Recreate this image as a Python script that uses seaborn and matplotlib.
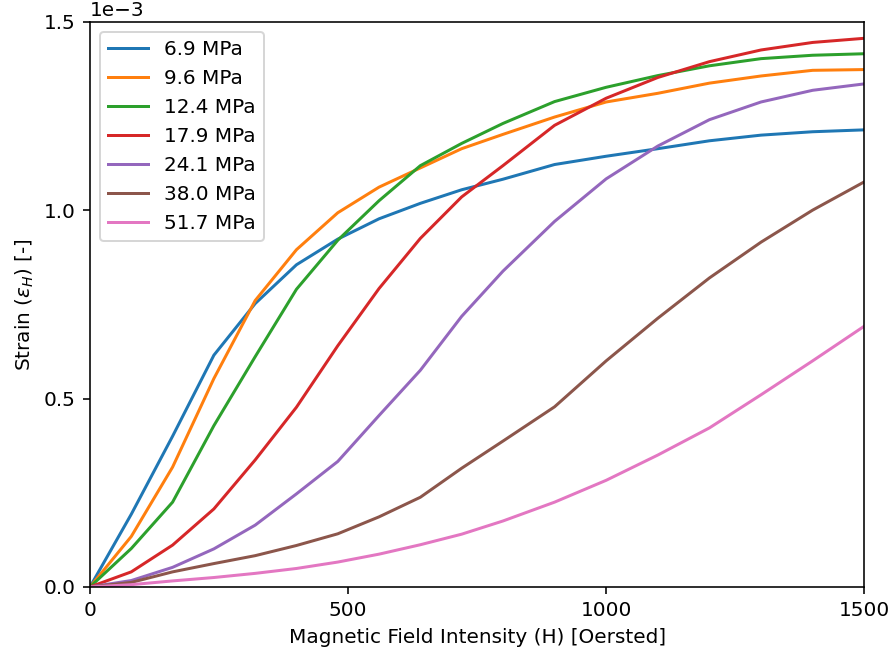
import numpy as np
import pandas as pd
import matplotlib
matplotlib.use("Agg")
import matplotlib.pyplot as plt
import seaborn as sns

# field intensity (Oe)
field = [0, 80, 160, 240, 320, 400, 480, 560, 640, 720, 800, 900, 1000, 1100, 1200, 1300, 1400, 1500]

# strain in units of 1e-3
s_6_9 = [0, 0.193, 0.400, 0.615, 0.752, 0.855, 0.923, 0.977, 1.018, 1.054, 1.082, 1.121, 1.143, 1.163, 1.184, 1.199, 1.208, 1.213]
s_9_6 = [0, 0.134, 0.318, 0.553, 0.760, 0.895, 0.993, 1.061, 1.112, 1.163, 1.201, 1.247, 1.287, 1.310, 1.337, 1.356, 1.371, 1.373]
s_12_4 = [0, 0.102, 0.225, 0.428, 0.611, 0.790, 0.920, 1.025, 1.118, 1.177, 1.230, 1.288, 1.326, 1.357, 1.383, 1.402, 1.411, 1.415]
s_17_9 = [0, 0.040, 0.111, 0.207, 0.337, 0.477, 0.640, 0.792, 0.925, 1.035, 1.118, 1.225, 1.297, 1.352, 1.394, 1.425, 1.445, 1.456]
s_24_1 = [0, 0.017, 0.052, 0.101, 0.164, 0.247, 0.333, 0.455, 0.575, 0.718, 0.838, 0.970, 1.083, 1.170, 1.240, 1.287, 1.318, 1.335]
s_38_0 = [0, 0.012, 0.040, 0.062, 0.083, 0.110, 0.141, 0.186, 0.238, 0.315, 0.387, 0.478, 0.600, 0.713, 0.820, 0.915, 1.000, 1.075]
s_51_7 = [0, 0.006, 0.016, 0.025, 0.036, 0.049, 0.066, 0.087, 0.112, 0.140, 0.175, 0.225, 0.283, 0.350, 0.422, 0.510, 0.600, 0.692]

labels = ["6.9 MPa", "9.6 MPa", "12.4 MPa", "17.9 MPa", "24.1 MPa", "38.0 MPa", "51.7 MPa"]
curves = [s_6_9, s_9_6, s_12_4, s_17_9, s_24_1, s_38_0, s_51_7]

rows = []
for lab, vals in zip(labels, curves):
    for h, v in zip(field, vals):
        rows.append((h, v * 1e-3, lab))
df = pd.DataFrame(rows, columns=["H", "strain", "stress"])

fig = plt.figure(figsize=(891 / 144, 658 / 144), dpi=144)
ax = fig.add_axes([0.101, 0.108, 0.869, 0.859])

sns.lineplot(data=df, x="H", y="strain", hue="stress", palette="tab10",
             sort=False, estimator=None, linewidth=1.5, ax=ax)

ax.set_xlim(0, 1500)
ax.set_ylim(0, 1.5e-3)
ax.set_xticks([0, 500, 1000, 1500])
ax.set_yticks([0, 0.5e-3, 1.0e-3, 1.5e-3])
ax.ticklabel_format(axis="y", style="sci", scilimits=(0, 0))
ax.set_xlabel("Magnetic Field Intensity (H) [Oersted]")
ax.set_ylabel(r"Strain ($\epsilon_H$) [-]")
ax.legend(loc="upper left", title=None)

plt.savefig("out.png", dpi=144)
